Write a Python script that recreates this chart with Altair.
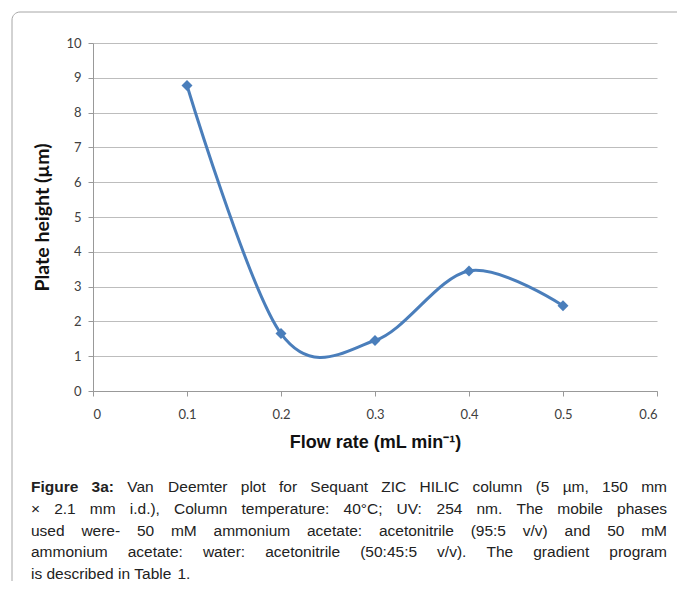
import altair as alt
import pandas as pd

# ---- data ----
flow_rate = [0.1, 0.2, 0.3, 0.4, 0.5]
plate_height = [8.78, 1.65, 1.45, 3.45, 2.45]
x_ticks = [0, 0.1, 0.2, 0.3, 0.4, 0.5, 0.6]
y_ticks = [0, 1, 2, 3, 4, 5, 6, 7, 8, 9, 10]

caption_lines = [
    [("Figure", True), ("3a:", True), ("Van", False), ("Deemter", False), ("plot", False), ("for", False),
     ("Sequant", False), ("ZIC", False), ("HILIC", False), ("column", False), ("(5", False), ("µm,", False),
     ("150", False), ("mm", False)],
    [(w, False) for w in "× 2.1 mm i.d.), Column temperature: 40°C; UV: 254 nm. The mobile phases".split(" ")],
    [(w, False) for w in "used were- 50 mM ammonium acetate: acetonitrile (95:5 v/v) and 50 mM".split(" ")],
    [(w, False) for w in "ammonium acetate: water: acetonitrile (50:45:5 v/v). The gradient program".split(" ")],
    [(w, False) for w in "is described in Table 1.".split(" ")],
]

# ---- layout (svg kept inside 669x573 so the page is not rescaled) ----
W, H = 564, 348
PAD_L, PAD_T = 85, 35
PAD_R = 669 - PAD_L - W
PAD_B = 573 - PAD_T - H
FS = 15.5
CAP_LEFT, CAP_RIGHT = 31 - 93, 667 - 93
BASELINES = [b - 43 for b in [491.5, 513.5, 535.5, 557.0, 578.5]]

REG = {' ': 278, '(': 333, ')': 333, ',': 278, '-': 333, '.': 278, '/': 278, ':': 278, ';': 278,
       'µ': 576, '×': 584, '°': 400}
for d in "0123456789":
    REG[d] = 556
REG.update(dict(A=667, B=667, C=722, D=722, E=667, F=611, G=778, H=722, I=278, J=500, K=667, L=556,
                M=833, N=722, O=778, P=667, Q=778, R=722, S=667, T=611, U=722, V=667, W=944, X=667,
                Y=667, Z=611, a=556, b=556, c=500, d=556, e=556, f=278, g=556, h=556, i=222, j=222,
                k=500, l=222, m=833, n=556, o=556, p=556, q=556, r=333, s=500, t=278, u=556, v=500,
                w=722, x=500, y=500, z=500))
BOLD = dict(REG)
BOLD.update({'F': 611, 'i': 278, 'g': 611, 'u': 611, 'r': 389, 'e': 556, '3': 556, 'a': 556, ':': 333})


def wwidth(word, bold):
    tab = BOLD if bold else REG
    return sum(tab.get(ch, 556) for ch in word) * FS / 1000.0


rows = []
for li, line in enumerate(caption_lines):
    widths = [wwidth(w, b) for w, b in line]
    if li < len(caption_lines) - 1:
        gap = (CAP_RIGHT - CAP_LEFT - sum(widths)) / (len(line) - 1)
    else:
        gap = REG[' '] * FS / 1000.0
    x = CAP_LEFT
    for (w, b), wd in zip(line, widths):
        rows.append({"word": w, "x": x, "y": BASELINES[li], "bold": b})
        x += wd + gap
cap_df = pd.DataFrame(rows)

df = pd.DataFrame({"flow": flow_rate, "h": plate_height})

LINE_COLOR = "#4a7ebb"

x_enc = alt.X("flow:Q", scale=alt.Scale(domain=[0, 0.6], nice=False),
              axis=alt.Axis(values=x_ticks, format=".1~f", title="Flow rate (mL min⁻¹)", grid=False,
                            tickSize=5, labelPadding=12, titlePadding=12, labelOverlap=False,
                            titleFont="Liberation Sans", titleFontSize=18, titleFontWeight="bold",
                            titleColor="#111111"))
y_enc = alt.Y("h:Q", scale=alt.Scale(domain=[0, 10], nice=False),
              axis=alt.Axis(values=y_ticks, title="Plate height (µm)", grid=True,
                            tickSize=5, labelPadding=7, titlePadding=13, labelOverlap=False,
                            titleFont="Lato", titleFontSize=19.5, titleFontWeight="bold",
                            titleColor="#111111"))

line = alt.Chart(df).mark_line(interpolate="cardinal", color=LINE_COLOR, strokeWidth=3).encode(
    x=x_enc, y=y_enc)
pts = alt.Chart(df).mark_point(shape="diamond", filled=True, color=LINE_COLOR, size=120, opacity=1).encode(
    x=x_enc, y=y_enc)

frame = alt.Chart(pd.DataFrame({"a": [0]})).mark_rect(
    filled=False, stroke="#a6a6a6", strokeWidth=1, cornerRadius=8, fill=None
).encode(x=alt.value(12 - 93), x2=alt.value(690 - 93), y=alt.value(12 - 43), y2=alt.value(640))

cap_norm = alt.Chart(cap_df[~cap_df["bold"]]).mark_text(
    align="left", baseline="alphabetic", font="Liberation Sans", fontSize=FS, color="#222222"
).encode(x=alt.X("x:Q", scale=None, axis=None), y=alt.Y("y:Q", scale=None, axis=None), text="word:N")
cap_bold = alt.Chart(cap_df[cap_df["bold"]]).mark_text(
    align="left", baseline="alphabetic", font="Liberation Sans", fontSize=FS, fontWeight="bold",
    color="#222222"
).encode(x=alt.X("x:Q", scale=None, axis=None), y=alt.Y("y:Q", scale=None, axis=None), text="word:N")

chart = alt.layer(frame, line, pts, cap_norm, cap_bold).properties(
    width=W, height=H,
    padding={"left": PAD_L, "top": PAD_T, "right": PAD_R, "bottom": PAD_B},
    autosize=alt.AutoSizeParams(type="none"),
).configure_view(stroke=None).configure_axis(
    labelFont="Lato", labelFontSize=13, labelColor="#404040",
    domainColor="#999999", tickColor="#999999", gridColor="#bdbdbd", gridWidth=1,
)

chart.save("out.html", embed_options={"renderer": "svg", "actions": False})
